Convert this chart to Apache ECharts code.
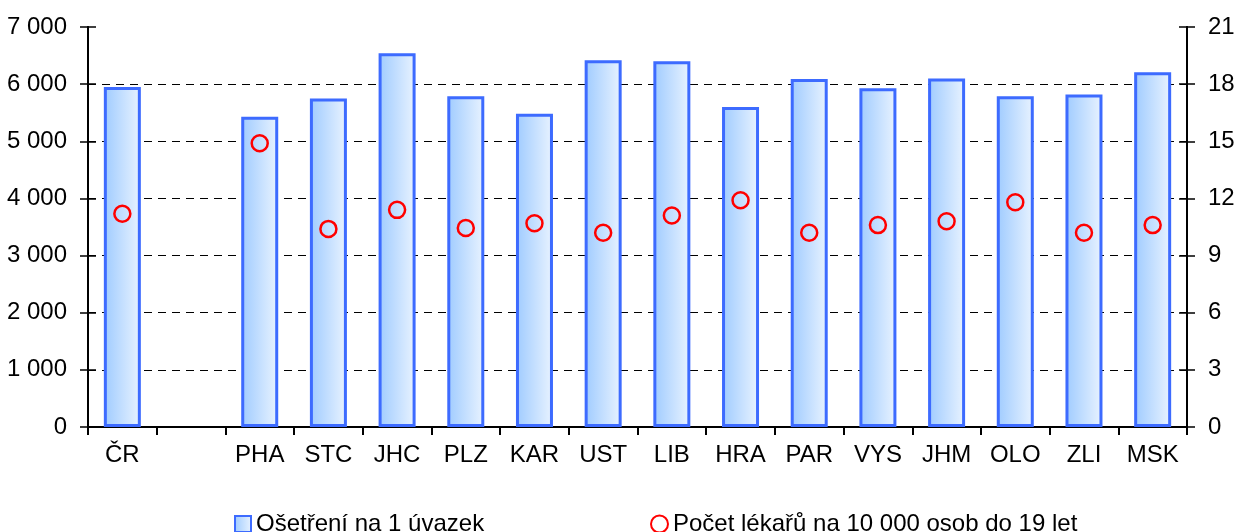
<!DOCTYPE html>
<html>
<head>
<meta charset="utf-8">
<script src="https://cdn.jsdelivr.net/npm/echarts@6/dist/echarts.min.js"></script>
<style>
  html, body { margin: 0; padding: 0; background: #fff; }
  #chart { width: 1236px; height: 532px; }
</style>
</head>
<body>
<div id="chart"></div>
<script>
// kraje, druhá pozice je mezera za ČR
const kraje = ['ČR', '', 'PHA', 'STC', 'JHC', 'PLZ', 'KAR', 'UST', 'LIB', 'HRA', 'PAR', 'VYS', 'JHM', 'OLO', 'ZLI', 'MSK']
const osetreni = [5950, '-', 5430, 5750, 6540, 5790, 5480, 6420, 6400, 5600, 6090, 5930, 6100, 5790, 5820, 6210]
const lekari = [11.2, '-', 14.9, 10.4, 11.4, 10.45, 10.7, 10.2, 11.1, 11.9, 10.2, 10.6, 10.8, 11.8, 10.2, 10.6]
const levaOsa = [0, 7000, 1000]
const pravaOsa = [0, 21, 3]

const font = "'Liberation Sans Narrow', 'Arial Narrow', 'Liberation Sans', Arial, sans-serif"
const nazevSloupce = 'Ošetření na 1 úvazek'
const nazevBodu = 'Počet lékařů na 10 000 osob do 19 let'

function mezera (v) {
  return String(v).replace(/\B(?=(\d{3})+(?!\d))/g, ' ')
}

// barvy mřížky, poslední (nahoře) schovaná
let mrizka = []
for (let i = levaOsa[0]; i <= levaOsa[1]; i += levaOsa[2]) {
  mrizka.push(i === levaOsa[1] ? 'rgba(0,0,0,0)' : '#000')
}

function osa (pos, rozsah, inside, labels) {
  return {
    type: 'value',
    position: pos,
    min: rozsah[0],
    max: rozsah[1],
    interval: rozsah[2],
    axisLine: { show: true, lineStyle: { color: '#000', width: 2 } },
    axisTick: { show: true, inside: inside, length: 8, lineStyle: { color: '#000', width: 1.5 } },
    axisLabel: {
      show: labels,
      margin: 21,
      color: '#000',
      fontFamily: font,
      fontSize: 24,
      formatter: mezera
    },
    splitLine: { show: false }
  }
}

let yLeft = osa('left', levaOsa, false, true)
yLeft.splitLine = { show: true, lineStyle: { color: mrizka, type: [8, 6], width: 1 } }

let myChart = echarts.init(document.getElementById('chart'))
myChart.setOption({
  animation: false,
  grid: { left: 88, right: 49, top: 27, bottom: 105, containLabel: false, outerBoundsMode: 'none' },
  legend: [
    {
      data: [{ name: nazevSloupce, icon: 'rect' }],
      left: 229,
      top: 507,
      itemWidth: 16,
      itemHeight: 16,
      textStyle: { color: '#000', fontFamily: font, fontSize: 24 }
    },
    {
      data: [{ name: nazevBodu, icon: 'circle' }],
      left: 645,
      top: 507,
      itemWidth: 17,
      itemHeight: 17,
      textStyle: { color: '#000', fontFamily: font, fontSize: 24 }
    }
  ],
  xAxis: {
    type: 'category',
    data: kraje,
    boundaryGap: true,
    axisLine: { lineStyle: { color: '#000', width: 2 } },
    axisTick: { show: true, interval: 0, length: 8, lineStyle: { color: '#000', width: 2 } },
    axisLabel: { interval: 0, margin: 16, color: '#000', fontFamily: font, fontSize: 24 },
    splitLine: { show: false }
  },
  yAxis: [
    yLeft,
    osa('left', levaOsa, true, false),
    osa('right', pravaOsa, false, true),
    osa('right', pravaOsa, true, false)
  ],
  series: [
    {
      name: nazevSloupce,
      type: 'bar',
      yAxisIndex: 0,
      barWidth: 37,
      data: osetreni,
      itemStyle: {
        color: new echarts.graphic.LinearGradient(0, 0, 1, 0, [
          { offset: 0, color: '#9fcbff' },
          { offset: 1, color: '#e9f3ff' }
        ]),
        borderColor: '#3d6bff',
        borderWidth: 3
      }
    },
    {
      name: nazevBodu,
      type: 'scatter',
      yAxisIndex: 2,
      symbol: 'circle',
      symbolSize: 16,
      data: lekari,
      itemStyle: { color: 'rgba(255,255,255,0)', borderColor: '#ff0000', borderWidth: 2.5, opacity: 1 },
      z: 5
    }
  ]
})
</script>
</body>
</html>
